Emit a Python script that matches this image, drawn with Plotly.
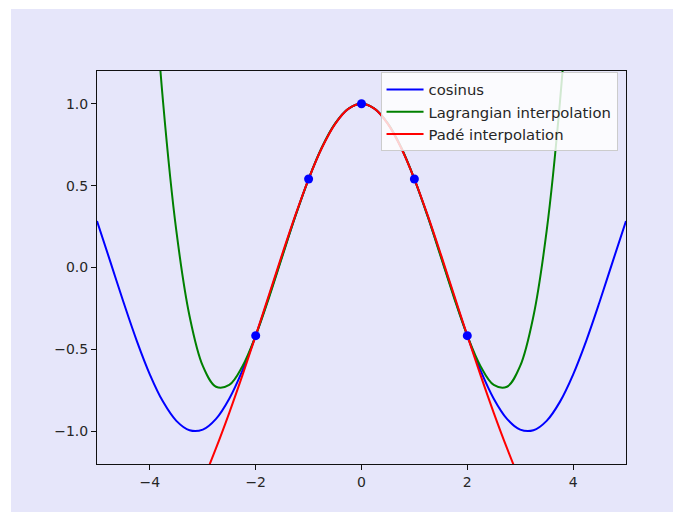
import plotly.graph_objects as go

# ---- data ----
x_cos = [-5.0, -4.75, -4.5, -4.25, -4.0, -3.75, -3.5, -3.25, -3.0, -2.75, -2.5, -2.25, -2.0,
         -1.75, -1.5, -1.25, -1.0, -0.75, -0.5, -0.25, 0.0, 0.25, 0.5, 0.75, 1.0, 1.25, 1.5,
         1.75, 2.0, 2.25, 2.5, 2.75, 3.0, 3.25, 3.5, 3.75, 4.0, 4.25, 4.5, 4.75, 5.0]
y_cos = [0.2837, 0.0376, -0.2108, -0.4461, -0.6536, -0.8206, -0.9365, -0.9941, -0.9900, -0.9243,
         -0.8011, -0.6282, -0.4161, -0.1782, 0.0707, 0.3153, 0.5403, 0.7317, 0.8776, 0.9689, 1.0,
         0.9689, 0.8776, 0.7317, 0.5403, 0.3153, 0.0707, -0.1782, -0.4161, -0.6282, -0.8011,
         -0.9243, -0.9900, -0.9941, -0.9365, -0.8206, -0.6536, -0.4461, -0.2108, 0.0376, 0.2837]

x_lag = [-4.25, -4.0, -3.75, -3.5, -3.25, -3.0, -2.75, -2.5, -2.25, -2.0, -1.75, -1.5, -1.25,
         -1.0, -0.75, -0.5, -0.25, 0.0, 0.25, 0.5, 0.75, 1.0, 1.25, 1.5, 1.75, 2.0, 2.25, 2.5,
         2.75, 3.0, 3.25, 3.5, 3.75, 4.0, 4.25]
y_lag = [3.5527, 2.0988, 1.0060, 0.2232, -0.2977, -0.6011, -0.7283, -0.7173, -0.6028, -0.4161,
         -0.1853, 0.0647, 0.3127, 0.5403, 0.7328, 0.8785, 0.9692, 1.0, 0.9692, 0.8785, 0.7328,
         0.5403, 0.3127, 0.0647, -0.1853, -0.4161, -0.6028, -0.7173, -0.7283, -0.6011, -0.2977,
         0.2232, 1.0060, 2.0988, 3.5527]

x_pade = [-3.5, -3.25, -3.0, -2.75, -2.5, -2.25, -2.0, -1.75, -1.5, -1.25, -1.0, -0.75, -0.5,
          -0.25, 0.0, 0.25, 0.5, 0.75, 1.0, 1.25, 1.5, 1.75, 2.0, 2.25, 2.5, 2.75, 3.0, 3.25, 3.5]
y_pade = [-1.6573, -1.4883, -1.3038, -1.1033, -0.8873, -0.6574, -0.4161, -0.1681, 0.0801, 0.3198,
          0.5403, 0.7297, 0.8758, 0.9683, 1.0, 0.9683, 0.8758, 0.7297, 0.5403, 0.3198, 0.0801,
          -0.1681, -0.4161, -0.6574, -0.8873, -1.1033, -1.3038, -1.4883, -1.6573]

x_nodes = [-2.0, -1.0, 0.0, 1.0, 2.0]
y_nodes = [-0.4161, 0.5403, 1.0, 0.5403, -0.4161]

series_names = ["cosinus", "Lagrangian interpolation", "Padé interpolation"]

x_ticks = [-4, -2, 0, 2, 4]
x_ticklabels = ["\u22124", "\u22122", "0", "2", "4"]
y_ticks = [-1.0, -0.5, 0.0, 0.5, 1.0]
y_ticklabels = ["\u22121.0", "\u22120.5", "0.0", "0.5", "1.0"]

# ---- figure ----
FONT = "DejaVu Sans"
fig = go.Figure()
fig.add_trace(go.Scatter(x=x_cos, y=y_cos, mode="lines", name=series_names[0],
                         line=dict(color="#0000ff", width=2, shape="spline")))
fig.add_trace(go.Scatter(x=x_lag, y=y_lag, mode="lines", name=series_names[1],
                         line=dict(color="#008000", width=2, shape="spline")))
fig.add_trace(go.Scatter(x=x_pade, y=y_pade, mode="lines", name=series_names[2],
                         line=dict(color="#ff0000", width=2, shape="spline")))
fig.add_trace(go.Scatter(x=x_nodes, y=y_nodes, mode="markers", showlegend=False,
                         marker=dict(color="#0000ff", size=9, line=dict(width=0))))

axis_common = dict(showgrid=False, zeroline=False, showline=True, linecolor="#111111",
                   linewidth=1, mirror=True, ticks="outside", ticklen=5, tickwidth=1,
                   tickcolor="#111111", tickfont=dict(family=FONT, size=14, color="#262626"))

fig.update_layout(
    width=673, height=504,
    margin=dict(l=89, r=55, t=63, b=48),
    paper_bgcolor="white",
    plot_bgcolor="white",
    font=dict(family=FONT, size=14, color="#262626"),
    xaxis=dict(range=[-5, 5], tickvals=x_ticks, ticktext=x_ticklabels, **axis_common),
    yaxis=dict(range=[-1.2, 1.2], tickvals=y_ticks, ticktext=y_ticklabels, **axis_common),
    legend=dict(x=0.984, y=0.9965, xanchor="right", yanchor="top", itemwidth=37,
                bgcolor="rgba(255,255,255,0.82)", bordercolor="#cccccc", borderwidth=1,
                font=dict(family=FONT, size=14.8, color="#262626"), tracegroupgap=0),
    shapes=[dict(type="rect", xref="paper", yref="paper", x0=-0.1626, x1=1.2,
                 y0=-0.2, y1=1.1578, fillcolor="#e6e6fa", line=dict(width=0), layer="below")],
    showlegend=True,
)

fig.write_html("out.html", config={"displayModeBar": False})
